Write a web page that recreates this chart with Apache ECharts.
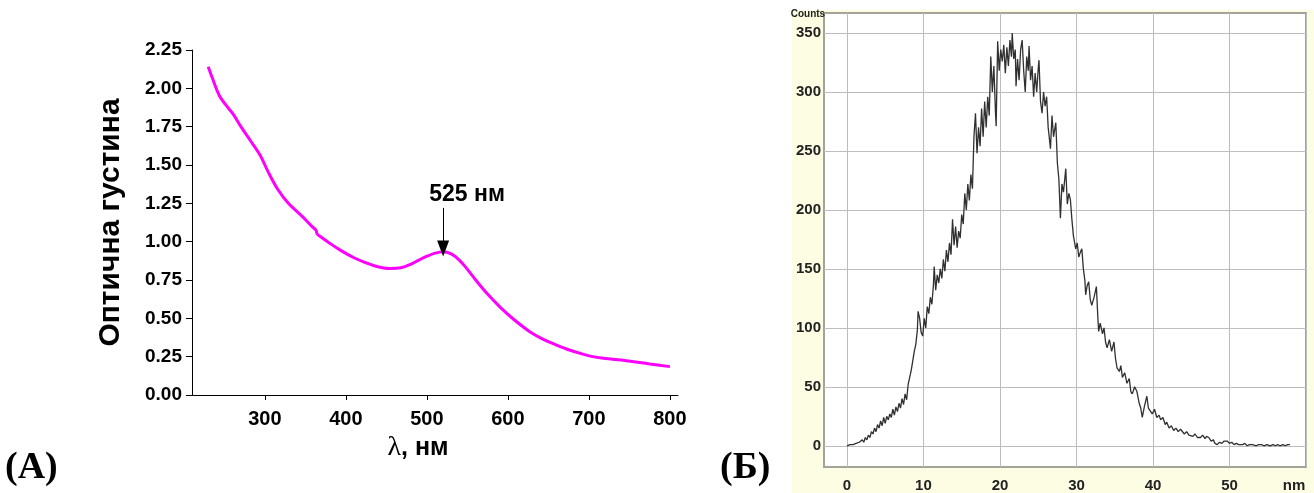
<!DOCTYPE html>
<html>
<head>
<meta charset="utf-8">
<script src="https://cdn.jsdelivr.net/npm/echarts@6/dist/echarts.min.js"></script>
<style>
html,body{margin:0;padding:0;background:#fff;}
#chart{width:1314px;height:493px;}
</style>
</head>
<body>
<div id="chart"></div>
<script>
// ---- Panel A: absorption spectrum ----
const specWavelength = [230,237,244,252,261,271,282,294,304,316,329,347,358,363,364.5,368,380,393,410,421,437,454,468,479,490,500,510,520,530,540,549,561,574,590,607,627,645,660,675,689,703,718,746,775,800];
const specDensity = [2.14,2.04,1.95,1.89,1.83,1.745,1.66,1.565,1.455,1.34,1.25,1.16,1.10,1.075,1.05,1.035,0.99,0.945,0.895,0.87,0.84,0.825,0.83,0.85,0.88,0.905,0.925,0.935,0.92,0.88,0.826,0.745,0.663,0.575,0.494,0.413,0.36,0.326,0.295,0.272,0.252,0.239,0.224,0.202,0.185];
const specXTicks = [300,400,500,600,700,800];
const peakLabel = '525 нм';
const peakArrowX = 520;
const peakArrowTop = 1.22;
const peakArrowTip = 0.955;

// ---- Panel B: size distribution ----
const histNm = [0.0,0.2,0.4,0.6,0.8,1.0,1.2,1.4,1.6,1.8,2.0,2.2,2.4,2.6,2.8,3.0,3.2,3.4,3.6,3.8,4.0,4.2,4.4,4.6,4.8,5.0,5.2,5.4,5.6,5.8,6.0,6.2,6.4,6.6,6.8,7.0,7.2,7.4,7.6,7.8,8.0,8.2,8.4,8.6,8.8,9.0,9.2,9.3,9.5,9.7,9.9,10.1,10.3,10.5,10.7,10.9,11.1,11.3,11.4,11.6,11.8,12.0,12.2,12.4,12.6,12.8,13.0,13.2,13.4,13.6,13.8,14.0,14.2,14.4,14.6,14.8,15.0,15.2,15.4,15.6,15.8,16.0,16.2,16.4,16.6,16.8,17.0,17.2,17.4,17.6,17.8,18.0,18.2,18.4,18.6,18.8,19.0,19.2,19.4,19.5,19.7,19.9,20.1,20.3,20.5,20.7,20.9,21.1,21.3,21.5,21.6,21.8,22.0,22.1,22.3,22.5,22.7,22.9,23.1,23.3,23.5,23.7,23.8,24.0,24.2,24.4,24.6,24.8,25.0,25.1,25.3,25.5,25.7,25.9,26.1,26.3,26.6,26.8,27.0,27.3,27.5,27.7,27.9,28.1,28.3,28.6,28.8,29.0,29.2,29.4,29.6,29.9,30.1,30.3,30.5,30.7,30.9,31.1,31.2,31.4,31.6,31.8,32.0,32.3,32.6,32.8,32.9,33.1,33.4,33.6,33.8,34.0,34.3,34.6,34.9,35.1,35.3,35.6,35.8,36.0,36.3,36.6,36.9,37.1,37.3,37.6,37.9,38.2,38.4,38.6,38.9,39.2,39.4,39.6,39.9,40.2,40.5,40.8,41.0,41.3,41.6,41.8,42.1,42.4,42.7,43.0,43.3,43.6,43.8,44.1,44.4,44.7,44.9,45.2,45.5,45.8,46.2,46.5,46.8,47.0,47.3,47.6,47.9,48.1,48.4,48.7,49.0,49.3,49.7,50.0,50.3,50.6,50.9,51.2,51.4,51.7,52.0,52.3,52.6,53.0,53.2,53.5,53.8,54.2,54.5,54.9,55.3,55.7,56.0,56.3,56.6,57.0,57.3,57.6,57.9];
const histCounts = [0,0,1,0,1,1,2,1,3,2,5,3,7,5,9,7,12,10,15,12,18,15,21,17,24,19,25,22,27,24,31,26,33,29,36,32,40,35,44,39,52,58,64,72,80,86,98,114,108,96,93,108,100,118,112,126,120,136,152,132,145,138,150,142,158,148,166,156,172,162,192,170,186,168,182,176,196,188,214,200,222,208,230,218,262,282,248,270,254,286,262,292,270,296,280,330,300,322,285,271,343,318,336,326,340,316,338,322,344,330,350,328,336,305,328,310,336,344,318,300,330,318,339,310,322,296,316,300,320,327,292,282,300,288,296,270,252,280,262,274,240,226,193,222,215,235,205,214,209,192,178,167,172,160,164,167,150,140,128,136,139,124,119,126,135,108,97,104,95,100,88,83,90,80,88,74,66,63,68,58,62,53,57,46,44,50,46,36,32,24,34,42,32,30,27,31,24,26,22,24,18,20,15,17,13,15,12,14,13,10,12,9,10,8,10,7,7,9,6,8,7,4,5,2,1,3,2,4,4,2,3,1,2,1,2,1,2,0,1,1,2,0,1,1,0,1,0,1,0,1,0,1,0,1,1];
const histXTicks = [0,10,20,30,40,50,60];
const histYTicks = [0,50,100,150,200,250,300,350];

const specData = specWavelength.map((x,i)=>[x,specDensity[i]]);
const histData = histNm.map((x,i)=>[x,histCounts[i]]);

const SANS = '"Liberation Sans", Arial, sans-serif';
const SERIF = '"Liberation Serif", "Times New Roman", serif';

const chart = echarts.init(document.getElementById('chart'), null, {renderer:'canvas'});
chart.setOption({
  animation:false,
  backgroundColor:'#ffffff',
  graphic:[
    {type:'rect', z:-10, shape:{x:792,y:10,width:522,height:483}, style:{fill:'#fdfde3'}},
    {type:'text', left:5, top:449, style:{text:'(А)', font:'bold 38px '+SERIF, fill:'#000'}},
    {type:'text', left:720, top:449, style:{text:'(Б)', font:'bold 38px '+SERIF, fill:'#000'}}
  ],
  grid:[
    {left:192, top:50, width:486, height:345, containLabel:false},
    {left:824, top:13, width:482, height:456, containLabel:false, show:true, backgroundColor:'#ffffff', borderColor:'#a3a39a', borderWidth:2}
  ],
  xAxis:[
    {gridIndex:0, type:'value', min:210, max:810,
     name:'{l|λ}{b|, нм}', nameLocation:'middle', nameGap:34,
     nameTextStyle:{padding:[0,34,0,0], rich:{l:{fontFamily:SERIF, fontSize:28, color:'#000'}, b:{fontFamily:SANS, fontWeight:'bold', fontSize:25, color:'#000'}}},
     axisLine:{lineStyle:{color:'#000', width:1}},
     axisTick:{customValues:specXTicks, length:5, lineStyle:{color:'#000'}},
     axisLabel:{customValues:specXTicks, margin:14, fontFamily:SANS, fontWeight:'bold', fontSize:20, color:'#000'},
     splitLine:{show:false}},
    {gridIndex:1, type:'value', min:-3, max:60,
     axisLine:{show:false},
     axisTick:{show:false, customValues:histXTicks},
     axisLabel:{customValues:histXTicks, margin:11, fontFamily:SANS, fontWeight:'bold', fontSize:15, color:'#222',
       formatter:(v)=> v===60 ? '{n|nm}' : String(v), rich:{n:{fontFamily:SANS, fontWeight:'bold', fontSize:15, color:'#222', padding:[0,24,0,0]}}},
     splitLine:{show:true, lineStyle:{color:'#bdbdbd', width:1}}}
  ],
  yAxis:[
    {gridIndex:0, type:'value', min:0, max:2.25, interval:0.25,
     name:'Оптична густина', nameLocation:'middle', nameGap:66, nameRotate:90,
     nameTextStyle:{fontFamily:SANS, fontWeight:'bold', fontSize:30, color:'#000'},
     axisLine:{show:true, lineStyle:{color:'#000', width:1}},
     axisTick:{show:true, length:6, lineStyle:{color:'#000'}},
     axisLabel:{margin:10, fontFamily:SANS, fontWeight:'bold', fontSize:19, color:'#000', formatter:(v)=>v.toFixed(2)},
     splitLine:{show:false}},
    {gridIndex:1, type:'value', min:-18, max:367,
     name:'Counts', nameLocation:'end', nameGap:-6,
     nameTextStyle:{fontFamily:SANS, fontWeight:'bold', fontSize:10, color:'#222', padding:[0,78,0,0]},
     axisLine:{show:false},
     axisTick:{show:false, customValues:histYTicks},
     axisLabel:{customValues:histYTicks, margin:3, fontFamily:SANS, fontWeight:'bold', fontSize:15, color:'#222'},
     splitLine:{show:true, lineStyle:{color:'#bdbdbd', width:1}}}
  ],
  series:[
    {type:'line', xAxisIndex:0, yAxisIndex:0, data:specData, smooth:0.35, showSymbol:false,
     lineStyle:{color:'#ff00ff', width:3}, z:3,
     markLine:{silent:true, animation:false,
       lineStyle:{color:'#000', width:1, type:'solid'},
       symbolSize:[12,16],
       label:{show:true, position:'start', formatter:peakLabel, fontFamily:SANS, fontWeight:'bold', fontSize:23, color:'#000', distance:2, padding:[0,0,0,48]},
       data:[[{coord:[peakArrowX,peakArrowTop], symbol:'none'},{coord:[peakArrowX,peakArrowTip], symbol:'triangle'}]]}},
    {type:'line', xAxisIndex:1, yAxisIndex:1, data:histData, showSymbol:false, smooth:false,
     lineStyle:{color:'#303030', width:1.3}, z:3}
  ]
});
</script>
</body>
</html>
